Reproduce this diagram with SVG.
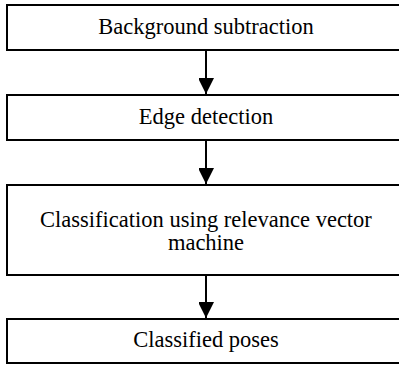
<svg xmlns="http://www.w3.org/2000/svg" width="399" height="367" viewBox="0 0 399 367">
<style>
.box{fill:#fff;stroke:#000;stroke-width:2}
.t{font-family:"Liberation Serif","Times New Roman",serif;font-size:22.5px;fill:#000;text-anchor:middle}
.c{stroke:#000;stroke-width:2;fill:none}
</style>
<defs>
<marker id="ah" markerUnits="userSpaceOnUse" markerWidth="16" markerHeight="15" refX="16" refY="8" orient="auto">
<path d="M0,0 L16,8 L0,16 Z" fill="#000"/>
</marker>
</defs>
<rect width="399" height="367" fill="#fff"/>
<g id="n1"><rect class="box" x="7" y="5" width="398" height="45"/><text class="t" x="206" y="34">Background subtraction</text></g>
<g id="n2"><rect class="box" x="7" y="95" width="398" height="45"/><text class="t" x="206" y="124">Edge detection</text></g>
<g id="n3"><rect class="box" x="7" y="185" width="398" height="90"/><text class="t" x="206" y="227">Classification using relevance vector</text><text class="t" x="206" y="250">machine</text></g>
<g id="n4"><rect class="box" x="7" y="319" width="398" height="44"/><text class="t" x="206" y="347">Classified poses</text></g>
<g id="connectors">
<line class="c" x1="206" y1="50" x2="206" y2="94" marker-end="url(#ah)"/>
<line class="c" x1="206" y1="140" x2="206" y2="184" marker-end="url(#ah)"/>
<line class="c" x1="206" y1="275" x2="206" y2="318" marker-end="url(#ah)"/>
</g>
</svg>
